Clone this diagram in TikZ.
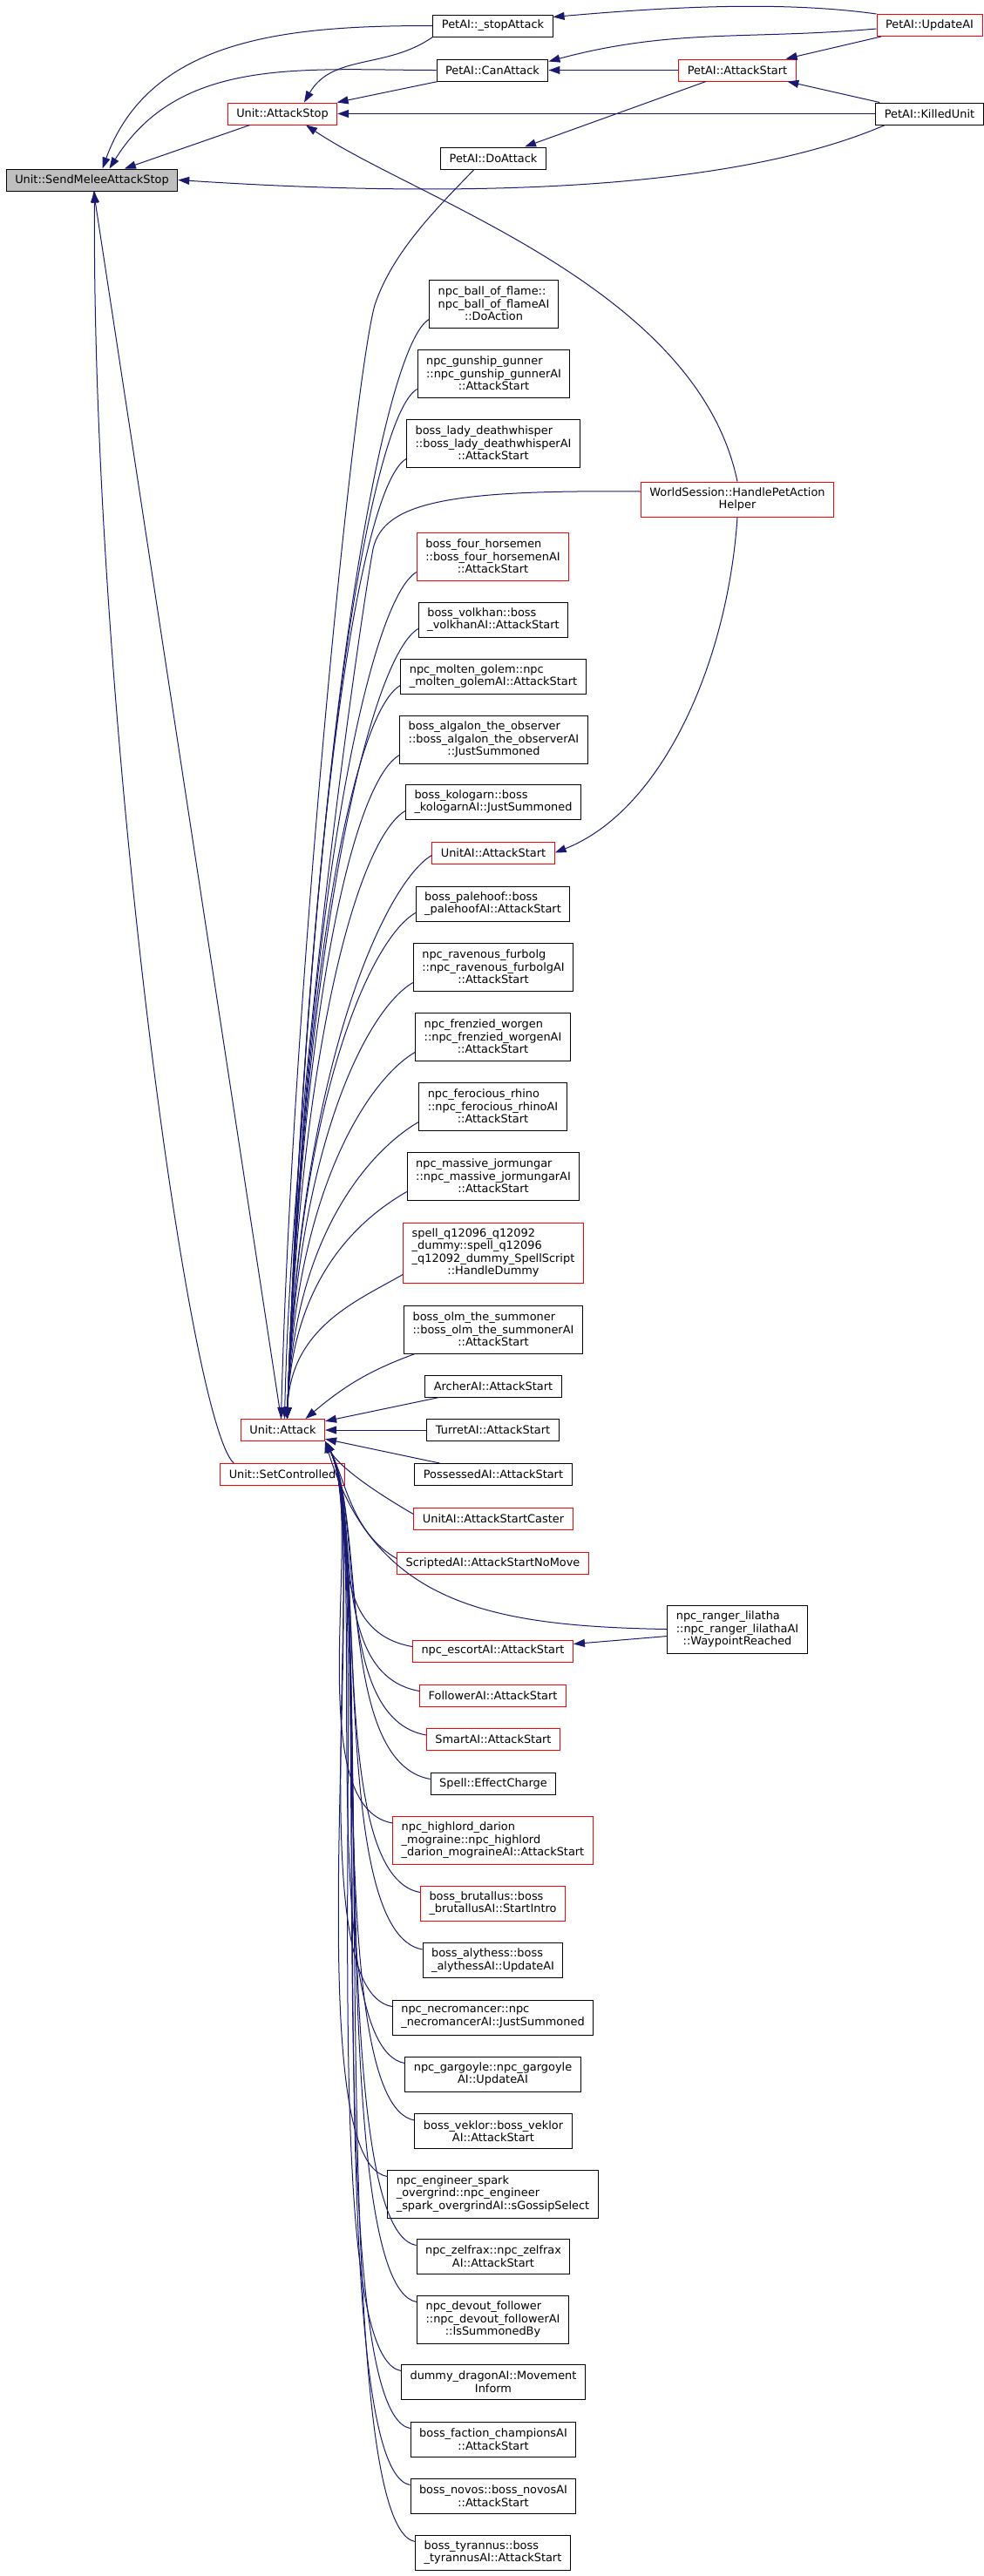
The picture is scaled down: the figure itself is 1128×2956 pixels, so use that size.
\documentclass[tikz,border=0pt]{standalone}
\usepackage{fontspec}
\setmainfont{DejaVu Sans}
\usepackage{tikz}
\usepackage{xcolor}
\usetikzlibrary{arrows.meta}

\definecolor{callblue}{HTML}{191970}
\definecolor{rootgray}{HTML}{BFBFBF}

\begin{document}
\begin{tikzpicture}[x=1pt, y=1pt,
  fn/.style={rectangle, draw=black, fill=white, line width=1pt, inner xsep=10pt, inner ysep=0pt,
    minimum height=25pt, align=left, font=\fontsize{12.9}{14.5}\selectfont},
  hot/.style={fn, draw=red},
  root/.style={fn, fill=rootgray},
  two/.style={minimum height=40pt},
  three/.style={minimum height=55pt},
  four/.style={minimum height=69pt},
  call/.style={callblue, line width=1pt, -{Triangle[length=13pt, width=9pt]}}
]
  \useasboundingbox (0,0) rectangle (1128,-2956);

  \node[fn] (stop) at (565.5,-29.5) {PetAI::\_stopAttack};
  \node[hot] (upd) at (1066.5,-29) {PetAI::UpdateAI};
  \node[fn] (can) at (565,-80.5) {PetAI::CanAttack};
  \node[hot] (pstart) at (846,-80.5) {PetAI::AttackStart};
  \node[hot] (astop) at (324,-130.5) {Unit::AttackStop};
  \node[fn] (kill) at (1066.5,-130.5) {PetAI::KilledUnit};
  \node[fn] (doatk) at (566,-181.5) {PetAI::DoAttack};
  \node[root] (send) at (105.5,-206.5) {Unit::SendMeleeAttackStop};

  \node[fn, three] (ball) at (566.5,-348.5) {npc\_ball\_of\_flame::\\npc\_ball\_of\_flameAI\\\hfil ::DoAction};
  \node[fn, three] (gunship) at (566.5,-428.5) {npc\_gunship\_gunner\\::npc\_gunship\_gunnerAI\\\hfil ::AttackStart};
  \node[fn, three] (lady) at (566,-508.5) {boss\_lady\_deathwhisper\\::boss\_lady\_deathwhisperAI\\\hfil ::AttackStart};
  \node[hot, two] (ws) at (846,-573) {WorldSession::HandlePetAction\\\hfil Helper};
  \node[hot, three] (horsemen) at (565.5,-638.5) {boss\_four\_horsemen\\::boss\_four\_horsemenAI\\\hfil ::AttackStart};
  \node[fn, two] (volkhan) at (566,-711) {boss\_volkhan::boss\\\_volkhanAI::AttackStart};
  \node[fn, two] (golem) at (566,-776) {npc\_molten\_golem::npc\\\_molten\_golemAI::AttackStart};
  \node[fn, three] (algalon) at (566.5,-848.5) {boss\_algalon\_the\_observer\\::boss\_algalon\_the\_observerAI\\\hfil ::JustSummoned};
  \node[fn, two] (kologarn) at (566,-920) {boss\_kologarn::boss\\\_kologarnAI::JustSummoned};
  \node[hot] (uaistart) at (566,-978.5) {UnitAI::AttackStart};
  \node[fn, two] (palehoof) at (565.5,-1037) {boss\_palehoof::boss\\\_palehoofAI::AttackStart};
  \node[fn, three] (furbolg) at (566,-1109.5) {npc\_ravenous\_furbolg\\::npc\_ravenous\_furbolgAI\\\hfil ::AttackStart};
  \node[fn, three] (worgen) at (565.5,-1189.5) {npc\_frenzied\_worgen\\::npc\_frenzied\_worgenAI\\\hfil ::AttackStart};
  \node[fn, three] (rhino) at (565.5,-1269.5) {npc\_ferocious\_rhino\\::npc\_ferocious\_rhinoAI\\\hfil ::AttackStart};
  \node[fn, three] (jormungar) at (566,-1349.5) {npc\_massive\_jormungar\\::npc\_massive\_jormungarAI\\\hfil ::AttackStart};
  \node[hot, four] (spell) at (566,-1437.5) {spell\_q12096\_q12092\\\_dummy::spell\_q12096\\\_q12092\_dummy\_SpellScript\\\hfil ::HandleDummy};
  \node[fn, three] (olm) at (566,-1525.5) {boss\_olm\_the\_summoner\\::boss\_olm\_the\_summonerAI\\\hfil ::AttackStart};
  \node[fn] (archer) at (566,-1590.5) {ArcherAI::AttackStart};
  \node[fn] (turret) at (565.5,-1641) {TurretAI::AttackStart};
  \node[fn] (possessed) at (566,-1692) {PossessedAI::AttackStart};
  \node[hot] (attack) at (324.5,-1641) {Unit::Attack};
  \node[hot] (setc) at (324,-1692) {Unit::SetControlled};
  \node[hot] (caster) at (566,-1742.5) {UnitAI::AttackStartCaster};
  \node[hot] (nomove) at (565.5,-1793.5) {ScriptedAI::AttackStartNoMove};
  \node[fn, three] (lilatha) at (846,-1869.5) {npc\_ranger\_lilatha\\::npc\_ranger\_lilathaAI\\\hfil ::WaypointReached};
  \node[hot] (escort) at (565.5,-1894.5) {npc\_escortAI::AttackStart};
  \node[hot] (follower) at (565.5,-1945.5) {FollowerAI::AttackStart};
  \node[hot] (smart) at (566,-1996) {SmartAI::AttackStart};
  \node[fn] (charge) at (566,-2046.5) {Spell::EffectCharge};
  \node[hot, three] (darion) at (565.5,-2112) {npc\_highlord\_darion\\\_mograine::npc\_highlord\\\_darion\_mograineAI::AttackStart};
  \node[hot, two] (brutallus) at (565.5,-2184) {boss\_brutallus::boss\\\_brutallusAI::StartIntro};
  \node[fn, two] (alythess) at (565.5,-2249.5) {boss\_alythess::boss\\\_alythessAI::UpdateAI};
  \node[fn, two] (necro) at (565.5,-2315) {npc\_necromancer::npc\\\_necromancerAI::JustSummoned};
  \node[fn, two] (gargoyle) at (565.5,-2380) {npc\_gargoyle::npc\_gargoyle\\\hfil AI::UpdateAI};
  \node[fn, two] (veklor) at (566,-2445.5) {boss\_veklor::boss\_veklor\\\hfil AI::AttackStart};
  \node[fn, three] (engineer) at (565.5,-2517.5) {npc\_engineer\_spark\\\_overgrind::npc\_engineer\\\_spark\_overgrindAI::sGossipSelect};
  \node[fn, two] (zelfrax) at (566,-2589) {npc\_zelfrax::npc\_zelfrax\\\hfil AI::AttackStart};
  \node[fn, three] (devout) at (565.5,-2661.5) {npc\_devout\_follower\\::npc\_devout\_followerAI\\\hfil ::IsSummonedBy};
  \node[fn, two] (dragon) at (566,-2733) {dummy\_dragonAI::Movement\\\hfil Inform};
  \node[fn, two] (faction) at (566,-2799) {boss\_faction\_championsAI\\\hfil ::AttackStart};
  \node[fn, two] (novos) at (566,-2864) {boss\_novos::boss\_novosAI\\\hfil ::AttackStart};
  \node[fn, two] (tyrannus) at (565.5,-2929) {boss\_tyrannus::boss\\\_tyrannusAI::AttackStart};

  % PetAI corner
  \draw[call] (upd.north west) to[out=172, in=5, looseness=0.8] ([yshift=10pt]stop.east);
  \draw[call] ([yshift=-4pt]upd.west) to[out=185, in=15] ([yshift=10pt]can.east);
  \draw[call] (upd) -- (pstart);
  \draw[call] (kill) -- (pstart);
  \draw[call] (pstart) -- (can);
  \draw[call] (pstart) -- (doatk);
  \draw[call] (kill) -- (astop);
  \draw[call] (can) -- (astop);
  \draw[call] (astop) -- (send);
  \draw[call] (stop.west) to[out=180, in=70] ([xshift=12pt]send.north);
  \draw[call] (can.west) to[out=180, in=58] ([xshift=20pt]send.north);
  \draw[call] (stop.south west) to[out=215, in=60] ([xshift=25pt]astop.north);
  \draw[call] ([xshift=11pt]kill.south west) .. controls (820,-228) and (470,-224) .. (send.east);
  \draw[call] (ws.north) .. controls (800,-330) and (480,-230) .. ([xshift=27pt]astop.south);
  \draw[call] (ws.south) .. controls (835,-760) and (760,-930) .. (uaistart.east);

  % into Unit::Attack
  \draw[call] ([yshift=9pt]ws.west) .. controls (520,-562) and (440,-575) .. (428,-630)
    .. controls (415,-700) and (335,-1250) .. ([xshift=2pt]attack.north);
  \draw[call] ([xshift=-22pt]doatk.south) .. controls (500,-240) and (450,-290) .. (430,-350)
    .. controls (405,-440) and (335,-1150) .. ([xshift=-2pt]attack.north);
  \foreach \n/\len in {ball/795, gunship/745, lady/694, horsemen/612, volkhan/571, golem/530,
      algalon/480, kologarn/440, uaistart/408, palehoof/366, furbolg/316, worgen/265,
      rhino/215, jormungar/164, spell/105}
    \draw[call] ([yshift=10pt]\n.south west) .. controls +(210:60) and +(88:\len) .. ([xshift=5pt]attack.north);
  \draw[call] ([xshift=13pt]olm.south west) to[out=200, in=40] ([xshift=26pt]attack.north);
  \foreach \n in {archer, turret, possessed}
    \draw[call] (\n) -- (attack);
  \foreach \n/\len in {caster/30, nomove/50}
    \draw[call] ([yshift=-8pt]\n.north west) .. controls +(150:60) and +(-62:\len) .. (attack.south east);
  \foreach \n/\len in {escort/80, follower/90, smart/95, charge/100,
      darion/100, brutallus/105, alythess/105, necro/110, gargoyle/110, veklor/115,
      engineer/115, zelfrax/120, devout/120, dragon/125, faction/125, novos/130, tyrannus/130}
    \draw[call] ([yshift=-8pt]\n.north west) .. controls +(170:110) and +(-62:\len) .. (attack.south east);
  \draw[call] (lilatha.west) .. controls (560,-1866) and (430,-1840) .. (attack.south east);
  \draw[call] ([yshift=-8pt]lilatha.west) -- ([yshift=8pt]escort.east);

  % back to the root
  \draw[call] (attack) -- (send);
  \draw[call] ([xshift=16pt]setc.north west) .. controls (215,-1630) and (105,-800) .. ([xshift=3pt]send.south);
\end{tikzpicture}
\end{document}
